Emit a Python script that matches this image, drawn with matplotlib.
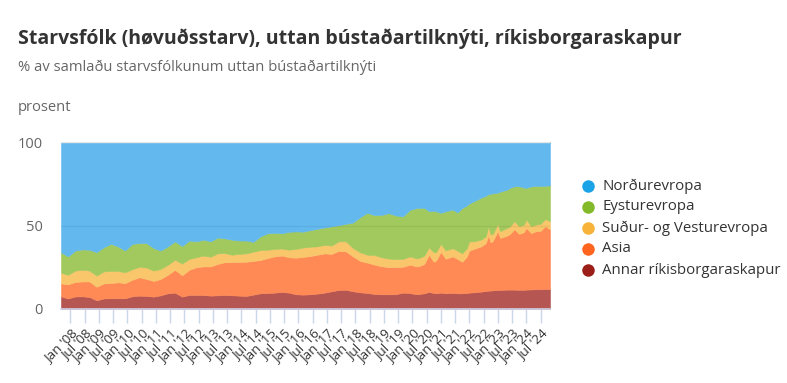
import matplotlib
matplotlib.use("Agg")
import matplotlib.pyplot as plt
from matplotlib.lines import Line2D

plt.rcParams['font.family'] = ['Open Sans', 'DejaVu Sans']

# ---- data (share of workers, %) ----
dates = ["2007-09", "2007-12", "2008-03", "2008-06", "2008-09", "2008-12", "2009-03", "2009-06",
         "2009-09", "2009-12", "2010-03", "2010-06", "2010-09", "2010-12", "2011-03", "2011-06",
         "2011-09", "2011-12", "2012-03", "2012-06", "2012-09", "2012-12", "2013-03", "2013-06",
         "2013-09", "2013-12", "2014-03", "2014-06", "2014-09", "2014-12", "2015-03", "2015-06",
         "2015-09", "2015-12", "2016-03", "2016-06", "2016-09", "2016-12", "2017-03", "2017-06",
         "2017-09", "2017-12", "2018-03", "2018-06", "2018-09", "2018-12", "2019-03", "2019-06",
         "2019-09", "2019-12", "2020-03", "2020-05", "2020-06", "2020-08", "2020-10", "2020-11",
         "2021-01", "2021-03", "2021-06", "2021-08", "2021-10", "2021-12", "2022-01", "2022-03",
         "2022-06", "2022-08", "2022-09", "2022-10", "2022-11", "2023-01", "2023-02", "2023-03",
         "2023-05", "2023-06", "2023-08", "2023-10", "2023-12", "2024-01", "2024-03", "2024-05",
         "2024-07", "2024-09", "2024-11"]

annar = [7.5, 6.3, 7.5, 7.6, 7.2, 5.2, 6.3, 6.4, 6.4, 6.4, 7.6, 8.0, 7.8, 7.4, 8.2, 9.4,
         9.8, 7.4, 8.4, 8.4, 8.4, 8.0, 8.2, 8.4, 8.2, 8.0, 7.8, 8.6, 9.4, 9.6, 9.8, 10.2,
         9.8, 8.8, 8.6, 8.8, 9.2, 9.8, 10.6, 11.4, 11.5, 10.6, 10.0, 9.6, 9.0, 8.8, 8.8, 8.8,
         9.8, 9.5, 8.8, 9.2, 9.4, 10.2, 9.6, 9.4, 9.8, 9.4, 9.6, 9.4, 9.4, 9.6, 9.8, 10.0,
         10.4, 10.8, 11.0, 11.0, 11.2, 11.4, 11.4, 11.5, 11.6, 11.6, 11.6, 11.5, 11.5, 11.6, 11.7, 11.8,
         11.8, 12.0, 11.8]

asia = [7.8, 8.5, 8.7, 8.9, 9.3, 8.1, 9.0, 9.1, 9.6, 9.1, 9.9, 11.0, 10.2, 9.4, 9.8, 11.1,
        13.7, 12.8, 15.1, 16.6, 17.1, 17.5, 18.8, 19.6, 19.8, 20.2, 20.5, 20.2, 19.9, 20.9, 21.7, 21.8,
        21.2, 21.9, 22.6, 22.9, 23.3, 23.5, 22.4, 23.4, 23.0, 20.9, 18.8, 18.2, 17.6, 16.8, 16.3, 16.2,
        15.5, 17.0, 16.7, 17.1, 17.6, 22.3, 18.7, 19.6, 24.4, 20.7, 21.9, 20.6, 18.9, 21.9, 25.2, 26.0,
        27.1, 28.7, 33.2, 28.8, 29.8, 35.2, 31.2, 31.5, 32.4, 33.2, 36.2, 33.5, 34.5, 37.0, 33.8, 34.7,
        35.0, 37.6, 36.0]

sudur = [6.4, 5.7, 6.8, 7.0, 6.5, 6.7, 7.2, 7.3, 6.8, 6.5, 6.3, 6.3, 6.8, 6.2, 6.0, 6.0,
         6.0, 7.0, 6.5, 6.0, 6.5, 5.8, 6.3, 5.5, 4.5, 4.8, 5.0, 5.5, 6.0, 5.0, 4.5, 4.2,
         4.5, 5.3, 5.6, 5.6, 5.0, 5.1, 5.0, 5.7, 6.0, 5.0, 5.2, 4.7, 5.7, 5.4, 5.1, 4.9,
         4.7, 5.0, 4.7, 4.9, 5.0, 4.4, 5.7, 5.0, 4.8, 5.0, 4.9, 5.0, 5.0, 5.0, 5.5, 4.5,
         4.1, 4.0, 5.4, 4.8, 4.2, 4.4, 4.0, 4.3, 4.6, 4.5, 4.8, 4.6, 4.5, 5.0, 4.1, 4.0,
         4.2, 4.2, 4.8]

eystur = [12.2, 11.0, 12.0, 12.2, 12.5, 14.0, 14.5, 16.2, 14.7, 13.0, 15.2, 14.2, 14.7, 13.5, 11.0, 11.0,
          11.0, 10.5, 11.0, 9.5, 9.5, 9.2, 9.5, 8.8, 9.0, 8.0, 7.7, 5.9, 8.2, 9.8, 9.6, 9.1,
          10.7, 10.5, 9.5, 9.9, 10.5, 10.4, 11.5, 9.7, 10.5, 15.3, 21.0, 25.1, 23.9, 25.3, 27.2, 26.1,
          25.4, 27.9, 30.3, 29.4, 28.6, 21.7, 24.8, 24.5, 18.6, 23.4, 23.2, 22.8, 27.2, 25.5, 22.7, 24.1,
          25.1, 24.3, 19.1, 24.4, 24.1, 18.7, 23.6, 23.4, 22.9, 23.2, 20.9, 23.9, 22.2, 18.9, 23.8, 23.2,
          22.7, 20.0, 21.4]

nordur = [66.1, 68.5, 65.0, 64.3, 64.5, 66.0, 63.0, 61.0, 62.5, 65.0, 61.0, 60.5, 60.5, 63.5, 65.0, 62.5,
          59.5, 62.5, 59.0, 59.5, 58.5, 59.5, 57.2, 57.7, 58.5, 59.0, 59.0, 59.8, 56.5, 54.7, 54.4, 54.7,
          53.8, 53.5, 53.7, 52.8, 52.0, 51.2, 50.5, 49.8, 49.0, 48.2, 45.0, 42.4, 43.8, 43.7, 42.6, 44.0,
          44.6, 40.6, 39.5, 39.4, 39.4, 41.4, 41.2, 41.5, 42.4, 41.5, 40.4, 42.2, 39.5, 38.0, 36.8, 35.4,
          33.3, 32.2, 31.3, 31.0, 30.7, 30.3, 29.8, 29.3, 28.5, 27.5, 26.5, 26.5, 27.3, 27.5, 26.6, 26.3,
          26.3, 26.2, 26.0]

series_names = ["Norðurevropa", "Eysturevropa", "Suður- og Vesturevropa", "Asia",
                "Annar ríkisborgaraskapur"]
tick_years = list(range(2008, 2025))
y_ticks = [0, 50, 100]

# ---- styling ----
fill_colors = {"Norðurevropa": "#63b9ee", "Eysturevropa": "#a2c95e",
               "Suður- og Vesturevropa": "#f9c66b", "Asia": "#ff8a55",
               "Annar ríkisborgaraskapur": "#b55653"}
legend_colors = {"Norðurevropa": "#1ba3e8", "Eysturevropa": "#84b92a",
                 "Suður- og Vesturevropa": "#f8b33a", "Asia": "#ff651e",
                 "Annar ríkisborgaraskapur": "#9c1e18"}


def month_index(s):
    y, m = map(int, s.split("-"))
    return (y - 2007) * 12 + (m - 9)


x = [month_index(d) for d in dates]

W, H = 787, 383
fig = plt.figure(figsize=(W / 100, H / 100), dpi=100)
L, R, T, B = 61, 550, 142, 309
ax = fig.add_axes([L / W, 1 - B / H, (R - L) / W, (B - T) / H])

stack_order = [("Annar ríkisborgaraskapur", annar), ("Asia", asia),
               ("Suður- og Vesturevropa", sudur), ("Eysturevropa", eystur),
               ("Norðurevropa", nordur)]
base = [0.0] * len(x)
for name, vals in stack_order:
    top = [b + v for b, v in zip(base, vals)]
    c = fill_colors[name]
    ax.fill_between(x, base, top, facecolor=c, edgecolor=c, linewidth=0.4, zorder=2)
    base = top

ax.set_xlim(0, month_index("2024-11"))
ax.set_ylim(0, 100)

# grid lines
ax.axhline(100, color="#e6e6e6", lw=1, zorder=3)
ax.axhline(50, color="#000000", alpha=0.06, lw=1, zorder=3)

# x ticks
tpos, tlab = [], []
for yv in tick_years:
    for mo, nm in (("01", "Jan"), ("07", "Jul")):
        tpos.append(month_index(f"{yv}-{mo}"))
        tlab.append(f"{nm} '{yv % 100:02d}")
ax.set_xticks(tpos)
ax.set_xticklabels(tlab, rotation=45, ha="right", rotation_mode="anchor",
                   fontsize=9.5, color="#333333")
ax.tick_params(axis="x", length=10, width=1, color="#ccd6eb", pad=3)

ax.set_yticks(y_ticks)
ax.set_yticklabels([str(v) for v in y_ticks], fontsize=10.5, color="#666666")
ax.tick_params(axis="y", length=0, pad=13)

for s in ("top", "right", "left"):
    ax.spines[s].set_visible(False)
ax.spines["bottom"].set_color("#ccd6eb")
ax.spines["bottom"].set_linewidth(1.2)
ax.spines["bottom"].set_zorder(4)

# titles
fig.text(18 / W, 1 - 44 / H, "Starvsfólk (høvuðsstarv), uttan bústaðartilknýti, ríkisborgaraskapur",
         fontsize=14, fontweight="bold", color="#333333", va="baseline", ha="left")
fig.text(18 / W, 1 - 71 / H, "% av samlaðu starvsfólkunum uttan bústaðartilknýti",
         fontsize=10.6, color="#666666", va="baseline", ha="left")
fig.text(18 / W, 1 - 111 / H, "prosent", fontsize=10.6, color="#666666",
         va="baseline", ha="left")

# legend
leg_y = [186, 207, 228, 249, 270]
for name, yy in zip(series_names, leg_y):
    fig.add_artist(Line2D([588 / W], [1 - yy / H], marker="o", markersize=9,
                          markerfacecolor=legend_colors[name], markeredgewidth=0,
                          linestyle="none", transform=fig.transFigure))
    fig.text(602 / W, 1 - yy / H, name, fontsize=10.8, color="#333333",
             va="center", ha="left")

fig.savefig("out.png", dpi=100)
